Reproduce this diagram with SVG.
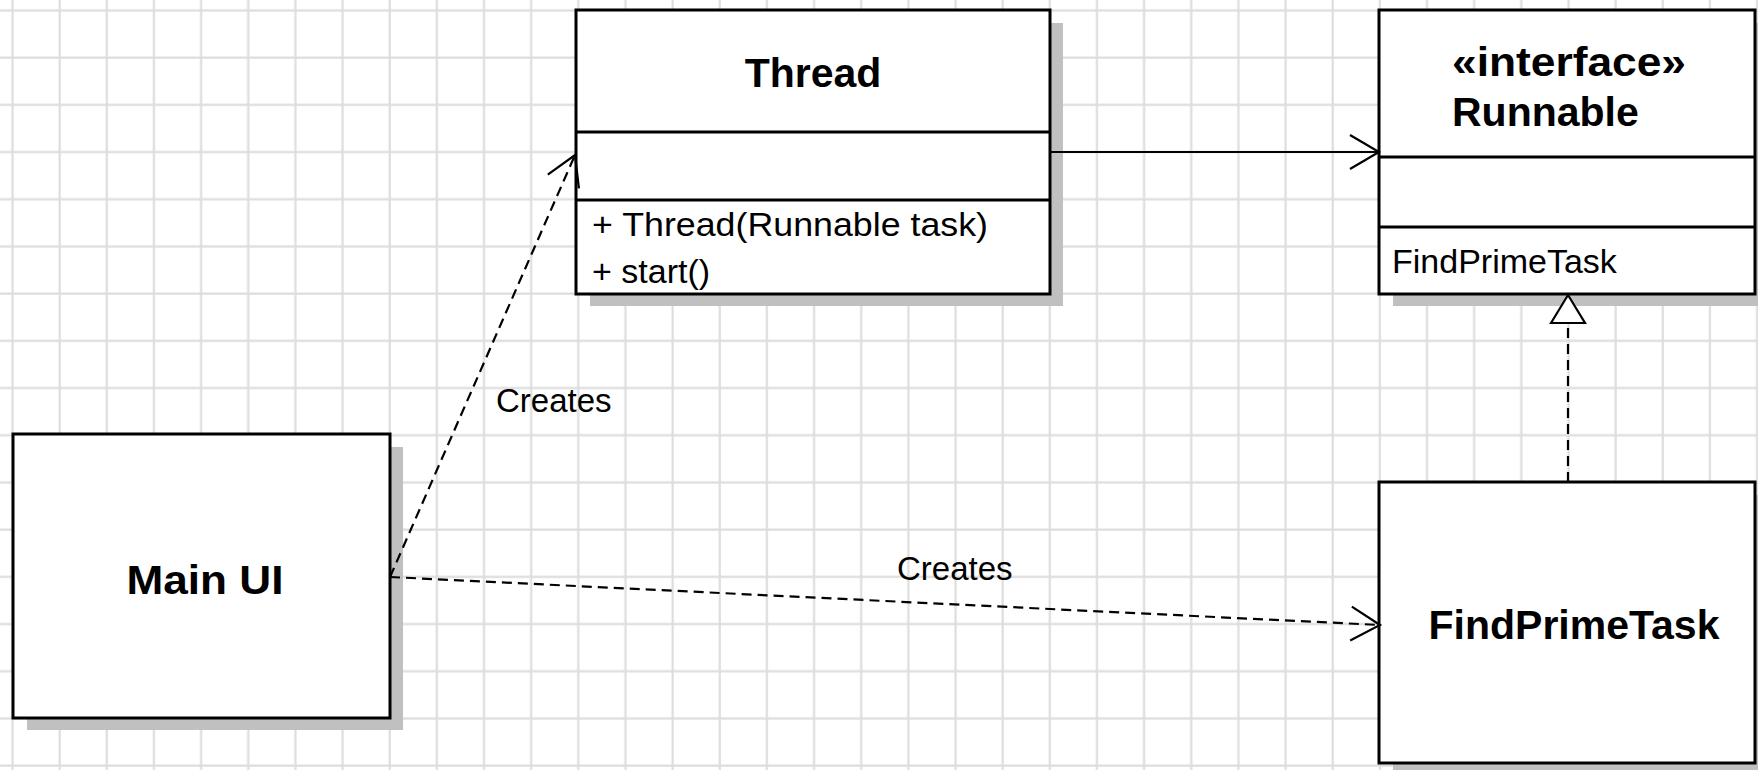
<svg xmlns="http://www.w3.org/2000/svg" width="1758" height="770" viewBox="0 0 1758 770">
  <style>
    .box { fill: #ffffff; stroke: #000000; stroke-width: 3; }
    .shadow { fill: #c0c0c0; stroke: none; }
    .div { stroke: #000000; stroke-width: 3; }
    .title { font-family: "Liberation Sans", Arial, sans-serif; font-weight: bold; font-size: 41px; fill: #000000; }
    .member { font-family: "Liberation Sans", Arial, sans-serif; font-size: 34px; fill: #000000; }
    .label { font-family: "Liberation Sans", Arial, sans-serif; font-size: 33px; fill: #000000; }
    .solid { fill: none; stroke: #000000; stroke-width: 2.2; }
    .dashed { fill: none; stroke: #000000; stroke-width: 2.2; stroke-dasharray: 10 6; }
  </style>
  <defs>
    <pattern id="grid" patternUnits="userSpaceOnUse" x="0" y="0" width="47.15" height="47.2">
      <line x1="12.5" y1="0" x2="12.5" y2="47.2" stroke="#dddddd" stroke-width="2.2"/>
      <line x1="0" y1="10.5" x2="47.15" y2="10.5" stroke="#dddddd" stroke-width="2.2"/>
    </pattern>
    <marker id="open" markerUnits="userSpaceOnUse" markerWidth="40" markerHeight="40" viewBox="-32 -20 36 40" refX="0" refY="0" orient="auto" overflow="visible">
      <path d="M -29 -17 L 0 0 L -29 17" fill="none" stroke="#000000" stroke-width="2.2"/>
    </marker>
    <marker id="tri" markerUnits="userSpaceOnUse" markerWidth="40" markerHeight="40" viewBox="-32 -20 36 40" refX="0" refY="0" orient="auto" overflow="visible">
      <path d="M -28 -17 L 0 0 L -28 17 Z" fill="#ffffff" stroke="#000000" stroke-width="2.2"/>
    </marker>
  </defs>

  <rect x="0" y="0" width="1758" height="770" fill="#ffffff"/>
  <rect x="0" y="0" width="1758" height="770" fill="url(#grid)"/>

  <g id="thread">
    <rect class="shadow" x="590" y="23" width="473" height="283"/>
    <rect class="box" x="576" y="10" width="474" height="284"/>
    <line class="div" x1="576" y1="132" x2="1050" y2="132"/>
    <line class="div" x1="576" y1="200" x2="1050" y2="200"/>
    <text class="title" x="813" y="87" text-anchor="middle">Thread</text>
    <text class="member" x="592" y="236" textLength="396" lengthAdjust="spacingAndGlyphs">+ Thread(Runnable task)</text>
    <text class="member" x="592" y="283">+ start()</text>
  </g>

  <g id="runnable">
    <rect class="shadow" x="1393" y="23" width="376" height="283"/>
    <rect class="box" x="1379" y="10" width="376" height="284"/>
    <line class="div" x1="1379" y1="157" x2="1755" y2="157"/>
    <line class="div" x1="1379" y1="227" x2="1755" y2="227"/>
    <text class="title" x="1452" y="76" textLength="234" lengthAdjust="spacingAndGlyphs">«interface»</text>
    <text class="title" x="1452" y="126">Runnable</text>
    <text class="member" x="1392" y="273">FindPrimeTask</text>
  </g>

  <g id="mainui">
    <rect class="shadow" x="27" y="447" width="376" height="283"/>
    <rect class="box" x="13" y="434" width="377" height="284"/>
    <text class="title" x="205" y="594" text-anchor="middle" textLength="157" lengthAdjust="spacingAndGlyphs">Main UI</text>
  </g>

  <g id="findprimetask">
    <rect class="shadow" x="1393" y="495" width="376" height="282"/>
    <rect class="box" x="1379" y="482" width="376" height="281"/>
    <text class="title" x="1574" y="639" text-anchor="middle">FindPrimeTask</text>
  </g>

  <g id="connectors">
    <line class="solid" x1="1050" y1="152" x2="1379" y2="152" marker-end="url(#open)"/>
    <line class="dashed" x1="390" y1="577" x2="575" y2="155" marker-end="url(#open)"/>
    <line class="dashed" x1="390" y1="577" x2="1380" y2="625" marker-end="url(#open)"/>
    <line class="dashed" x1="1568" y1="482" x2="1568" y2="295" marker-end="url(#tri)"/>
    <text class="label" x="496" y="412">Creates</text>
    <text class="label" x="897" y="580">Creates</text>
  </g>
</svg>
